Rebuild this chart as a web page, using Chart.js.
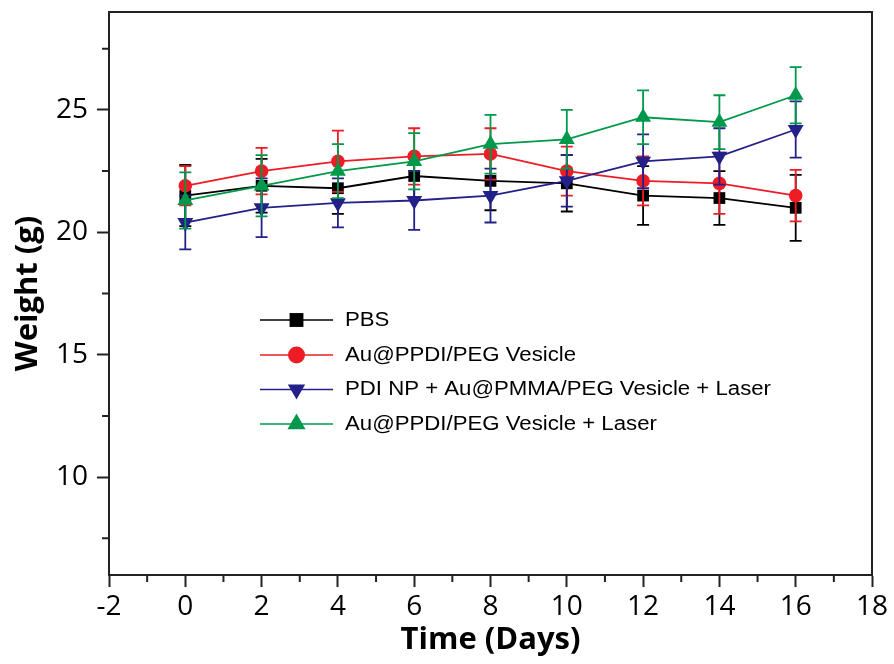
<!DOCTYPE html>
<html><head><meta charset="utf-8">
<script src="https://cdn.jsdelivr.net/npm/chart.js@4/dist/chart.umd.min.js"></script>
<style>html,body{margin:0;padding:0;background:#fff;}canvas{display:block;}</style>
</head><body>
<canvas id="c" width="894" height="664"></canvas>
<script>
// ---- data ----
const days = [0, 2, 4, 6, 8, 10, 12, 14, 16];
const seriesNames = ['PBS', 'Au@PPDI/PEG Vesicle', 'PDI NP + Au@PMMA/PEG Vesicle + Laser', 'Au@PPDI/PEG Vesicle + Laser'];
const pbsMean   = [21.5, 21.9, 21.8, 22.3, 22.1, 22.0, 21.5, 21.4, 21.0];
const pbsErr    = [1.25, 1.1, 1.05, 0.9, 1.2, 1.15, 1.2, 1.1, 1.35];
const vesMean   = [21.9, 22.5, 22.9, 23.1, 23.2, 22.5, 22.1, 22.0, 21.5];
const vesErr    = [0.8, 0.95, 1.25, 1.15, 1.05, 1.0, 1.0, 1.25, 1.05];
const pdiMean   = [20.4, 21.0, 21.2, 21.3, 21.5, 22.1, 22.9, 23.1, 24.2];
const pdiErr    = [1.1, 1.2, 1.0, 1.2, 1.1, 1.05, 1.1, 1.15, 1.15];
const laserMean = [21.3, 21.9, 22.5, 22.9, 23.6, 23.8, 24.7, 24.5, 25.6];
const laserErr  = [1.15, 1.25, 1.1, 1.15, 1.2, 1.2, 1.1, 1.1, 1.15];
const xTicks = [-2, 0, 2, 4, 6, 8, 10, 12, 14, 16, 18];
const xMinor = [-1, 1, 3, 5, 7, 9, 11, 13, 15, 17];
const yTicks = [10, 15, 20, 25];
const yMinor = [7.5, 12.5, 17.5, 22.5, 27.5];

const colors = ['#000000', '#ee1c25', '#232089', '#00994c'];
const styles = [
  {pointStyle: 'rect', radius: 8.3, rotation: 0},
  {pointStyle: 'circle', radius: 6.8, rotation: 0},
  {pointStyle: 'triangle', radius: 9.2, rotation: 180},
  {pointStyle: 'triangle', radius: 9.2, rotation: 0}
];
const means = [pbsMean, vesMean, pdiMean, laserMean];
const errs = [pbsErr, vesErr, pdiErr, laserErr];

const datasets = seriesNames.map((name, i) => ({
  label: name,
  data: days.map((d, k) => ({x: d, y: means[i][k]})),
  errors: errs[i],
  borderColor: colors[i],
  backgroundColor: colors[i],
  pointBackgroundColor: colors[i],
  pointBorderColor: colors[i],
  pointBorderWidth: 0,
  borderWidth: 1.8,
  pointStyle: styles[i].pointStyle,
  pointRadius: styles[i].radius,
  pointRotation: styles[i].rotation,
  order: 4 - i,
  tension: 0
}));

const errorBars = {
  id: 'errorBars',
  afterDatasetDraw(chart, args) {
    const ds = chart.data.datasets[args.index];
    const xs = chart.scales.x, ys = chart.scales.y;
    const ctx = chart.ctx;
    ctx.save();
    ctx.strokeStyle = ds.borderColor;
    ctx.lineWidth = 1.8;
    ds.data.forEach((p, k) => {
      const e = ds.errors[k];
      const x = xs.getPixelForValue(p.x);
      const yt = ys.getPixelForValue(p.y + e);
      const yb = ys.getPixelForValue(p.y - e);
      ctx.beginPath();
      ctx.moveTo(x, yt); ctx.lineTo(x, yb);
      ctx.moveTo(x - 6, yt); ctx.lineTo(x + 6, yt);
      ctx.moveTo(x - 6, yb); ctx.lineTo(x + 6, yb);
      ctx.stroke();
    });
    ctx.restore();
  }
};

const frame = {
  id: 'frame',
  afterDraw(chart) {
    const {ctx, chartArea: a, scales} = chart;
    ctx.save();
    ctx.strokeStyle = '#222';
    ctx.lineWidth = 2;
    ctx.beginPath();
    ctx.moveTo(a.left, a.top); ctx.lineTo(a.right, a.top); ctx.lineTo(a.right, a.bottom);
    ctx.stroke();
    // minor ticks
    ctx.beginPath();
    xMinor.forEach(v => {
      const x = scales.x.getPixelForValue(v);
      ctx.moveTo(x, a.bottom); ctx.lineTo(x, a.bottom + 7);
    });
    yMinor.forEach(v => {
      const y = scales.y.getPixelForValue(v);
      ctx.moveTo(a.left, y); ctx.lineTo(a.left - 7, y);
    });
    ctx.stroke();
    // legend
    const x0 = a.left + 151, x1 = a.left + 224, xm = (x0 + x1) / 2;
    const rows = [320, 355, 389.5, 424];
    const lr = [9.8, 8.5, 10, 10.4];
    ctx.font = '20px "Liberation Sans", Arial, sans-serif';
    ctx.textBaseline = 'middle';
    ctx.textAlign = 'left';
    chart.data.datasets.forEach((ds, i) => {
      const y = rows[i];
      ctx.strokeStyle = ds.borderColor;
      ctx.fillStyle = ds.borderColor;
      ctx.lineWidth = 1.6;
      ctx.beginPath(); ctx.moveTo(x0, y); ctx.lineTo(x1, y); ctx.stroke();
      Chart.helpers.drawPoint(ctx, {pointStyle: ds.pointStyle, radius: lr[i], rotation: ds.pointRotation, borderWidth: 0}, xm, y);
      ctx.fillStyle = '#000';
      ctx.save();
      ctx.translate(a.left + 236, y);
      ctx.scale(1.11, 1);
      ctx.fillText(ds.label, 0, 0);
      ctx.restore();
    });
    ctx.restore();
  }
};

const noPad = s => { s.paddingTop = 0; s.paddingBottom = 0; };

new Chart(document.getElementById('c'), {
  type: 'line',
  data: {datasets},
  options: {
    responsive: false,
    animation: false,
    layout: {padding: {left: 0, top: 12, right: 22, bottom: 0}},
    plugins: {legend: {display: false}, tooltip: {enabled: false}},
    scales: {
      x: {
        type: 'linear', min: -2, max: 18,
        afterBuildTicks: s => { s.ticks = xTicks.map(v => ({value: v})); },
        afterFit: s => { s.height = 89; },
        border: {display: true, color: '#222', width: 2},
        grid: {drawOnChartArea: false, drawTicks: true, tickLength: 12, tickWidth: 2, tickColor: '#222'},
        ticks: {color: '#000', font: {family: '"Open Sans", sans-serif', size: 28}, padding: 3, maxRotation: 0},
        title: {display: true, text: 'Time (Days)', color: '#000', font: {family: '"Open Sans", sans-serif', size: 31, weight: 'bold'}, padding: {top: 0, bottom: 5}}
      },
      y: {
        type: 'linear', min: 6, max: 29,
        afterBuildTicks: s => { s.ticks = yTicks.map(v => ({value: v})); },
        afterFit: s => { s.width = 109; noPad(s); },
        border: {display: true, color: '#222', width: 2},
        grid: {drawOnChartArea: false, drawTicks: true, tickLength: 12, tickWidth: 2, tickColor: '#222'},
        ticks: {color: '#000', font: {family: '"Open Sans", sans-serif', size: 28}, padding: 9},
        title: {display: true, text: 'Weight (g)', color: '#000', font: {family: '"Open Sans", sans-serif', size: 31, weight: 'bold'}, padding: {top: 10, bottom: 0}}
      }
    }
  },
  plugins: [errorBars, frame]
});
</script>
</body></html>
